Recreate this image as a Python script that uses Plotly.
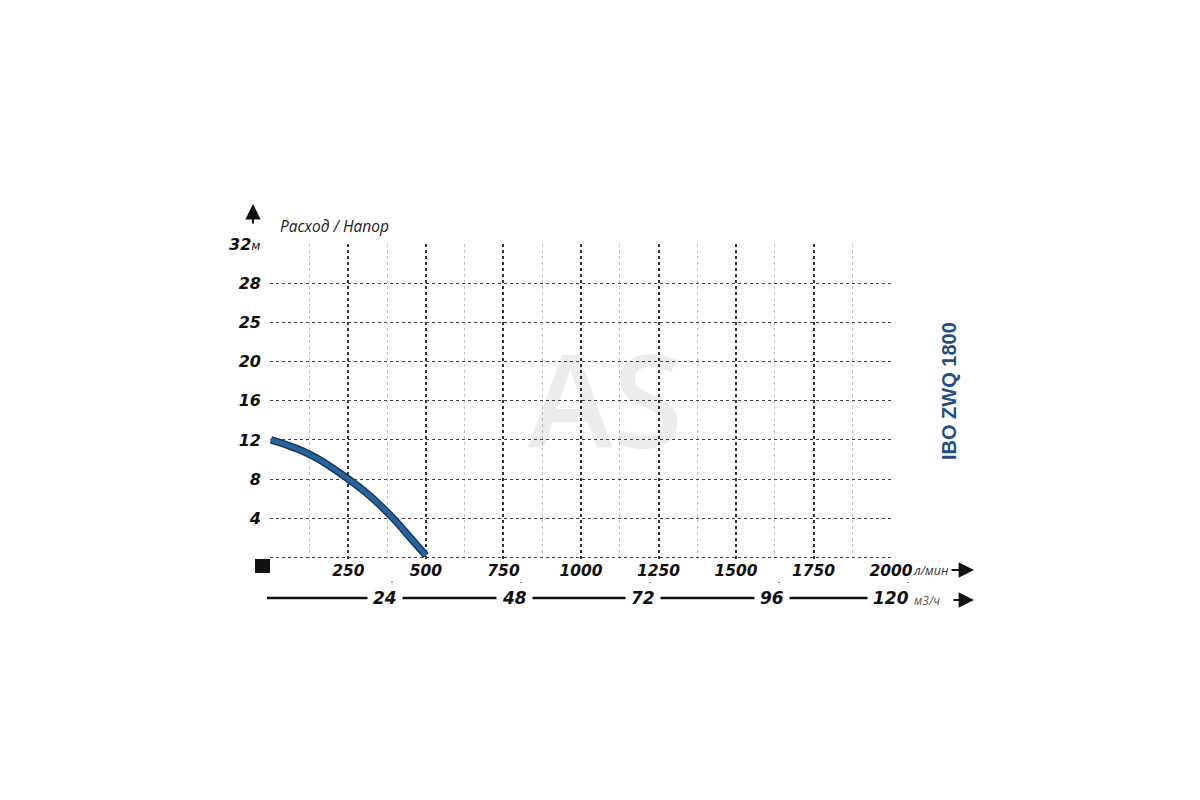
import plotly.graph_objects as go

# ---- data ----
flow_lpm = [0, 50, 100, 150, 200, 250, 300, 350, 400, 450, 500]
head_m = [12.0, 11.5, 10.9, 10.1, 9.1, 8.0, 6.8, 5.4, 3.8, 2.0, 0.2]

x_ticks = [0, 250, 500, 750, 1000, 1250, 1500, 1750, 2000]
x_ticktext = ["", "250", "500", "750", "1000", "1250", "1500", "1750", "2000"]
x_minor = [125, 375, 625, 875, 1125, 1375, 1625, 1875]

y_ticks = [0, 4, 8, 12, 16, 20, 24, 28]
y_ticktext = ["", "4", "8", "12", "16", "20", "25", "28"]
y_top = 32
y_top_label = "32"

m3h_ticks = [24, 48, 72, 96, 120]
m3h_labels = ["24", "48", "72", "96", "120"]

title_txt = "Расход / Напор"
model_txt = "IBO ZWQ 1800"
unit_flow = "л/мин"
unit_m3h = "м3/ч"
unit_head = "м"
watermark = "AS"

# ---- layout geometry (screen pixels; page body adds an 8px offset) ----
W, H = 1200, 800
OFF = 8
L, T = 263 - OFF, 244 - OFF
PW, PH = 692, 354
R = W - L - PW
B = H - T - PH


def px(s):
    return (s - OFF - L) / PW


def py(s):
    return (H - B - (s - OFF)) / PH


bold_it = dict(family="DejaVu Sans", size=15.5, color="#111", weight="bold", style="italic")
bold_it_y = dict(family="DejaVu Sans", size=16, color="#111", weight="bold", style="italic")

fig = go.Figure()
fig.add_trace(go.Scatter(x=flow_lpm, y=head_m, mode="lines", line=dict(color="#163a60", width=7.5, shape="spline"),
                         hoverinfo="skip", showlegend=False))
fig.add_trace(go.Scatter(x=flow_lpm, y=head_m, mode="lines", line=dict(color="#2a639b", width=4.5, shape="spline"),
                         showlegend=False))
# empty trace so the m3/h axis gets its own full-width subplot
fig.add_trace(go.Scatter(x=[], y=[], xaxis="x2", yaxis="y2", showlegend=False, hoverinfo="skip"))

fig.update_layout(
    width=W, height=H,
    margin=dict(l=L, r=R, t=T, b=B, autoexpand=False),
    paper_bgcolor="white", plot_bgcolor="rgba(0,0,0,0)",
    showlegend=False,
    xaxis=dict(
        domain=[px(270), px(892)], range=[-3, 2003], anchor="y",
        tickmode="array", tickvals=x_ticks, ticktext=x_ticktext,
        showgrid=True, gridcolor="#333", griddash="dot", gridwidth=2,
        minor=dict(tickvals=x_minor, showgrid=True, gridcolor="#c4c4c4", griddash="dot", gridwidth=1, ticks=""),
        zeroline=False, showline=False, ticks="", tickfont=bold_it, ticklabelstandoff=0,
    ),
    yaxis=dict(
        domain=[py(559), 1], range=[-0.15, 32],
        tickmode="array", tickvals=y_ticks, ticktext=y_ticktext,
        showgrid=True, gridcolor="#444", griddash="dot", gridwidth=1.2,
        zeroline=False, showline=False, ticks="", tickfont=bold_it_y, ticklabelstandoff=8,
    ),
    xaxis2=dict(
        domain=[0, 1], range=[0, PW / 5.375], anchor="y2",
        tickmode="array", tickvals=m3h_ticks, ticktext=["" for _ in m3h_ticks],
        ticks="inside", ticklen=16, tickwidth=2, tickcolor="#111",
        showgrid=False, zeroline=False, showline=False,
    ),
    yaxis2=dict(domain=[0, 1], range=[0, 1], anchor="x2", visible=False, showgrid=False, zeroline=False),
)

# second-axis baseline
fig.add_shape(type="line", xref="paper", yref="paper", x0=px(267), x1=px(872), y0=0, y1=0,
              line=dict(color="#111", width=2.5))
# black square at origin
fig.add_shape(type="rect", xref="paper", yref="paper", x0=px(255), x1=px(270), y0=py(573), y1=py(559),
              fillcolor="#111", line=dict(width=0))

ann = []
last = m3h_ticks[-1]
for v, t in zip(m3h_ticks, m3h_labels):
    ann.append(dict(x=v, y=0, xref="x2", yref="paper", xanchor="center", yanchor="middle",
                    text=t, showarrow=False, xshift=(-17 if v == last else -7),
                    font=dict(family="DejaVu Sans", size=17, color="#111", weight="bold", style="italic"),
                    bgcolor="white", borderpad=5))
# y top label
ann.append(dict(x=px(262), y=y_top, xref="paper", yref="y", xanchor="right", yanchor="middle", showarrow=False,
                text=y_top_label + "<span style='font-size:12px;font-weight:normal'>" + unit_head + "</span>",
                font=bold_it_y))
# units
ann.append(dict(x=px(911), y=py(570), xref="paper", yref="paper", xanchor="left", yanchor="middle",
                showarrow=False, text=unit_flow,
                font=dict(family="Open Sans", size=12.5, color="#333", style="italic")))
ann.append(dict(x=px(912), y=py(600), xref="paper", yref="paper", xanchor="left", yanchor="middle",
                showarrow=False, text=unit_m3h,
                font=dict(family="Open Sans", size=12, color="#555", style="italic")))
# arrows
ann.append(dict(x=px(974), y=py(570), xref="paper", yref="paper", ax=-24, ay=0, text="", showarrow=True,
                arrowhead=2, arrowsize=1.4, arrowwidth=2.2, arrowcolor="#111"))
ann.append(dict(x=px(974), y=py(600), xref="paper", yref="paper", ax=-22, ay=0, text="", showarrow=True,
                arrowhead=2, arrowsize=1.4, arrowwidth=2.2, arrowcolor="#111"))
ann.append(dict(x=px(253), y=py(204), xref="paper", yref="paper", ax=0, ay=21, text="", showarrow=True,
                arrowhead=2, arrowsize=1.4, arrowwidth=2.2, arrowcolor="#111"))
# title
ann.append(dict(x=px(278), y=py(226), xref="paper", yref="paper", xanchor="left", yanchor="middle",
                showarrow=False, text=title_txt,
                font=dict(family="Open Sans", size=15.5, color="#222", style="italic")))
# model label
ann.append(dict(x=px(949), y=py(391), xref="paper", yref="paper", xanchor="center", yanchor="middle",
                showarrow=False, textangle=-90, text=model_txt,
                font=dict(family="Liberation Sans", size=20, color="#1f4f86", weight="bold")))
# watermark
ann.append(dict(x=px(605), y=py(398), xref="paper", yref="paper", xanchor="center", yanchor="middle",
                showarrow=False, text=watermark,
                font=dict(family="Open Sans", size=128, color="rgba(0,0,0,0.075)", weight=600)))

fig.update_layout(annotations=ann)
fig.write_html("out.html")
